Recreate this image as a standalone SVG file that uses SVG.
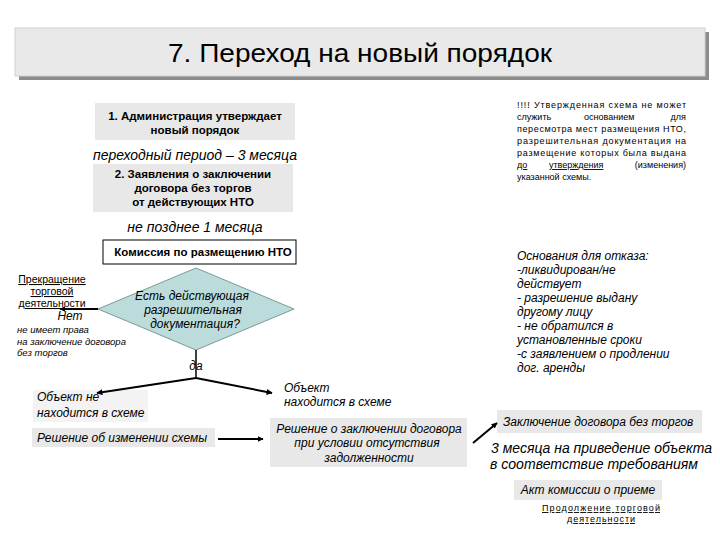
<svg xmlns="http://www.w3.org/2000/svg" width="720" height="540" viewBox="0 0 720 540">
<defs>
<marker id="ah" viewBox="0 0 10 10" refX="9" refY="5" markerWidth="6" markerHeight="6" orient="auto" markerUnits="userSpaceOnUse"><path d="M0,0 L10,5 L0,10 z" fill="#000"/></marker>
<style>
text{font-family:"Liberation Sans",Arial,sans-serif;fill:#000}
.b{font-weight:bold;font-size:11.5px}
.i{font-style:italic;font-size:12px}
.n{font-size:9px}
.u{font-size:10.5px;text-decoration:underline}
.box{fill:#e8e8e8}
.c{text-anchor:middle}
.ln{stroke:#000;stroke-width:2;fill:none}
</style>
</defs>
<rect width="720" height="540" fill="#fff"/>
<g id="title">
<rect x="19" y="32" width="690" height="48" fill="#8c8c8c"/>
<rect x="15" y="28" width="690" height="48" fill="#e9e9e9" stroke="#d0d0d0" stroke-width="1"/>
<text x="360" y="62" class="c" font-size="26" textLength="384" lengthAdjust="spacingAndGlyphs">7. Переход на новый порядок</text>
</g>
<g id="step1">
<rect class="box" x="95" y="103" width="200" height="37"/>
<text class="b c" x="195" y="120">1. Администрация утверждает</text>
<text class="b c" x="195" y="134">новый порядок</text>
</g>
<text id="period" class="c" x="195" y="160" font-style="italic" font-size="14">переходный период – 3 месяца</text>
<g id="step2">
<rect class="box" x="93" y="164" width="200" height="48"/>
<text class="b c" x="193" y="178">2. Заявления о заключении</text>
<text class="b c" x="193" y="192">договора  без торгов</text>
<text class="b c" x="193" y="206">от действующих НТО</text>
</g>
<text id="deadline" class="c" x="195" y="232" font-style="italic" font-size="14">не позднее 1 месяца</text>
<g id="commission">
<rect x="103" y="240" width="193" height="24" fill="#fff" stroke="#000" stroke-width="1"/>
<text class="b c" x="203" y="256">Комиссия по размещению НТО</text>
</g>
<g id="decision">
<polygon points="196,268 294,309 196,350 98,309" fill="#bcdcdc" stroke="#7a9a9a" stroke-width="1"/>
<text class="c" x="192" y="300" font-style="italic" font-size="12">Есть действующая</text>
<text class="c" x="193" y="314" font-style="italic" font-size="12">разрешительная</text>
<text class="c" x="195" y="328" font-style="italic" font-size="12">документация?</text>
</g>
<g id="stop">
<text class="u c" x="52" y="283">Прекращение</text>
<text class="u c" x="52" y="295">торговой</text>
<text class="u c" x="52" y="307">деятельности</text>
</g>
<text id="no" class="i c" x="70" y="320">Нет</text>
<g id="noright">
<text x="17" y="333" font-style="italic" font-size="9.5">не имеет права</text>
<text x="17" y="345" font-style="italic" font-size="9.5">на заключение договора</text>
<text x="17" y="356" font-style="italic" font-size="9.5">без торгов</text>
</g>
<text id="yes" class="i c" x="196" y="370">да</text>
<g id="notinscheme">
<rect x="33" y="390" width="115" height="32" fill="#f3f3f3"/>
<text class="i" x="37" y="401">Объект не</text>
<text class="i" x="37" y="417">находится в схеме</text>
</g>
<g id="changescheme">
<rect class="box" x="32" y="428" width="183" height="19"/>
<text class="i" x="37" y="442">Решение об изменении схемы</text>
</g>
<g id="inscheme">
<text class="i" x="284" y="392">Объект</text>
<text class="i" x="284" y="406">находится в схеме</text>
</g>
<g id="contractdecision">
<rect class="box" x="270" y="418" width="197" height="49"/>
<text class="i c" x="369" y="433">Решение о заключении договора</text>
<text class="i c" x="367" y="447">при условии отсутствия</text>
<text class="i c" x="369" y="462">задолженности</text>
</g>
<g id="contract">
<rect class="box" x="497" y="410" width="205" height="23"/>
<text class="i" x="503" y="426">Заключение договора без торгов</text>
</g>
<g id="threemonths">
<text x="491" y="453" font-style="italic" font-size="14" textLength="221" lengthAdjust="spacingAndGlyphs">3 месяца на приведение объекта</text>
<text x="490" y="469" font-style="italic" font-size="14" textLength="208" lengthAdjust="spacingAndGlyphs">в соответствие требованиям</text>
</g>
<g id="act">
<rect class="box" x="514" y="480" width="148" height="20"/>
<text class="i c" x="588" y="494">Акт комиссии о приеме</text>
</g>
<g id="continue">
<text class="n c" x="601" y="511" text-decoration="underline" textLength="118" lengthAdjust="spacing">Продолжение  торговой</text>
<text class="n c" x="601" y="522" text-decoration="underline" textLength="68" lengthAdjust="spacing">деятельности</text>
</g>
<g id="note">
<text class="n" x="517" y="108" textLength="169" lengthAdjust="spacing">!!!! Утвержденная схема не может</text>
<text class="n" x="517" y="120">служить</text>
<text class="n" x="584" y="120">основанием</text>
<text class="n" x="686" y="120" text-anchor="end">для</text>
<text class="n" x="517" y="132" textLength="169" lengthAdjust="spacing">пересмотра мест размещения НТО,</text>
<text class="n" x="517" y="144" textLength="169" lengthAdjust="spacing">разрешительная документация на</text>
<text class="n" x="517" y="156" textLength="169" lengthAdjust="spacing">размещение которых была выдана</text>
<text class="n" x="517" y="168" text-decoration="underline">до</text>
<text class="n" x="549" y="168" text-decoration="underline">утверждения</text>
<text class="n" x="686" y="168" text-anchor="end">(изменения)</text>
<text class="n" x="517" y="180">указанной схемы.</text>
</g>
<g id="reasons">
<text class="i" x="517" y="260">Основания для отказа:</text>
<text class="i" x="517" y="274">-ликвидирован/не</text>
<text class="i" x="517" y="288">действует</text>
<text class="i" x="517" y="302">- разрешение выдану</text>
<text class="i" x="517" y="316">другому лицу</text>
<text class="i" x="517" y="330">- не обратился в</text>
<text class="i" x="517" y="344">установленные сроки</text>
<text class="i" x="517" y="358">-с заявлением о продлении</text>
<text class="i" x="517" y="372">дог. аренды</text>
</g>
<g id="connectors">
<line class="ln" x1="98" y1="309" x2="60" y2="309" marker-end="url(#ah)"/>
<line x1="196" y1="350" x2="196" y2="378" stroke="#000" stroke-width="1.5"/>
<line class="ln" x1="196" y1="378" x2="97" y2="393" marker-end="url(#ah)"/>
<line class="ln" x1="196" y1="378" x2="272" y2="393" marker-end="url(#ah)"/>
<line class="ln" x1="218" y1="439" x2="263" y2="439" marker-end="url(#ah)"/>
<line class="ln" x1="473" y1="443" x2="497" y2="423" marker-end="url(#ah)"/>
</g>
</svg>
